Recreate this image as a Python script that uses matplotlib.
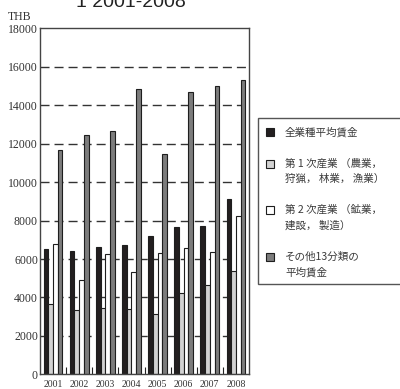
import matplotlib
matplotlib.use("Agg")
import matplotlib.pyplot as plt
from matplotlib.patches import Rectangle
import numpy as np

# Average monthly wages (THB) by sector, 2001-2008
years = ["2001", "2002", "2003", "2004", "2005", "2006", "2007", "2008"]
all_industries = [6530, 6440, 6610, 6730, 7200, 7640, 7720, 9130]
primary = [3650, 3330, 3440, 3390, 3140, 4250, 4630, 5350]
secondary = [6770, 4930, 6250, 5310, 6300, 6560, 6370, 8260]
other13 = [11680, 12450, 12660, 14840, 11460, 14700, 15000, 15310]

series = [all_industries, primary, secondary, other13]
fills = ["#231f20", "#d2d2d2", "#ffffff", "#7c7c7c"]
legend_lines = [
    ["全業種平均賃金"],
    ["第 1 次産業 （農業，", "狩猟， 林業， 漁業）"],
    ["第 2 次産業 （鉱業，", "建設， 製造）"],
    ["その他13分類の", "平均賃金"],
]

W, H = 400, 389
fig = plt.figure(figsize=(W / 100, H / 100), dpi=100)


def fc(x, y):
    """Pixel position (from top-left) to figure fraction."""
    return x / W, 1 - y / H


ax = fig.add_axes([40 / W, 1 - 374.3 / H, 209 / W, (374.3 - 28.4) / H])

x = np.arange(len(years))
bw = 0.18
offsets = [-1.5 * bw, -0.5 * bw, 0.5 * bw, 1.5 * bw]
for vals, col, off in zip(series, fills, offsets):
    ax.bar(x + off, vals, width=bw, color=col, edgecolor="#1e1e1e",
           linewidth=0.8, zorder=3)

ax.set_xlim(-0.5, len(years) - 0.5)
ax.set_ylim(0, 18000)
ax.set_yticks(np.arange(0, 18001, 2000))
ax.set_xticks(x)
ax.set_xticklabels(years)
ax.set_xticks(x[:-1] + 0.5, minor=True)

serif = "Liberation Serif"
ax.tick_params(axis="y", length=0, pad=1.5, labelsize=8.5, labelcolor="#333333")
ax.tick_params(axis="x", which="major", length=0, pad=4, labelsize=7,
               labelcolor="#333333")
ax.tick_params(axis="x", which="minor", direction="in", length=5, width=0.8,
               color="#222222")
for lab in ax.get_xticklabels() + ax.get_yticklabels():
    lab.set_fontfamily(serif)

ax.set_axisbelow(True)
ax.yaxis.grid(True, color="#333333", linewidth=1.0, linestyle=(0, (6.5, 3.6)))
gridlines = ax.get_ygridlines()
for gl in gridlines:
    gl.set_zorder(1)
gridlines[0].set_visible(False)
gridlines[-1].set_visible(False)
for sp in ax.spines.values():
    sp.set_color("#444444")
    sp.set_linewidth(1.0)
    sp.set_zorder(4)

# Unit and title
fig.text(*fc(8, 19.5), "THB", fontfamily=serif, fontsize=8.5,
         color="#333333", va="baseline", ha="left")
fig.text(*fc(76, 7), "1 2001-2008", fontfamily="Liberation Sans", fontsize=14,
         color="#222222", va="baseline", ha="left")

# Legend box
fig.patches.append(Rectangle(fc(258, 284), 160 / W, (284 - 118) / H,
                             transform=fig.transFigure, facecolor="white",
                             edgecolor="#555555", linewidth=1.0))
jp = ["Noto Sans CJK JP", "DejaVu Sans"]
item_y = [132, 164, 210, 257]
for lines, col, yc in zip(legend_lines, fills, item_y):
    fig.patches.append(Rectangle(fc(266, yc + 4), 8 / W, 8 / H,
                                 transform=fig.transFigure, facecolor=col,
                                 edgecolor="#1e1e1e", linewidth=0.8))
    for k, line in enumerate(lines):
        fig.text(*fc(285, yc + 15 * k), line, fontfamily=jp, fontsize=7.6,
                 color="#3a3a3a", va="center", ha="left")

fig.savefig("out.png", dpi=100)
